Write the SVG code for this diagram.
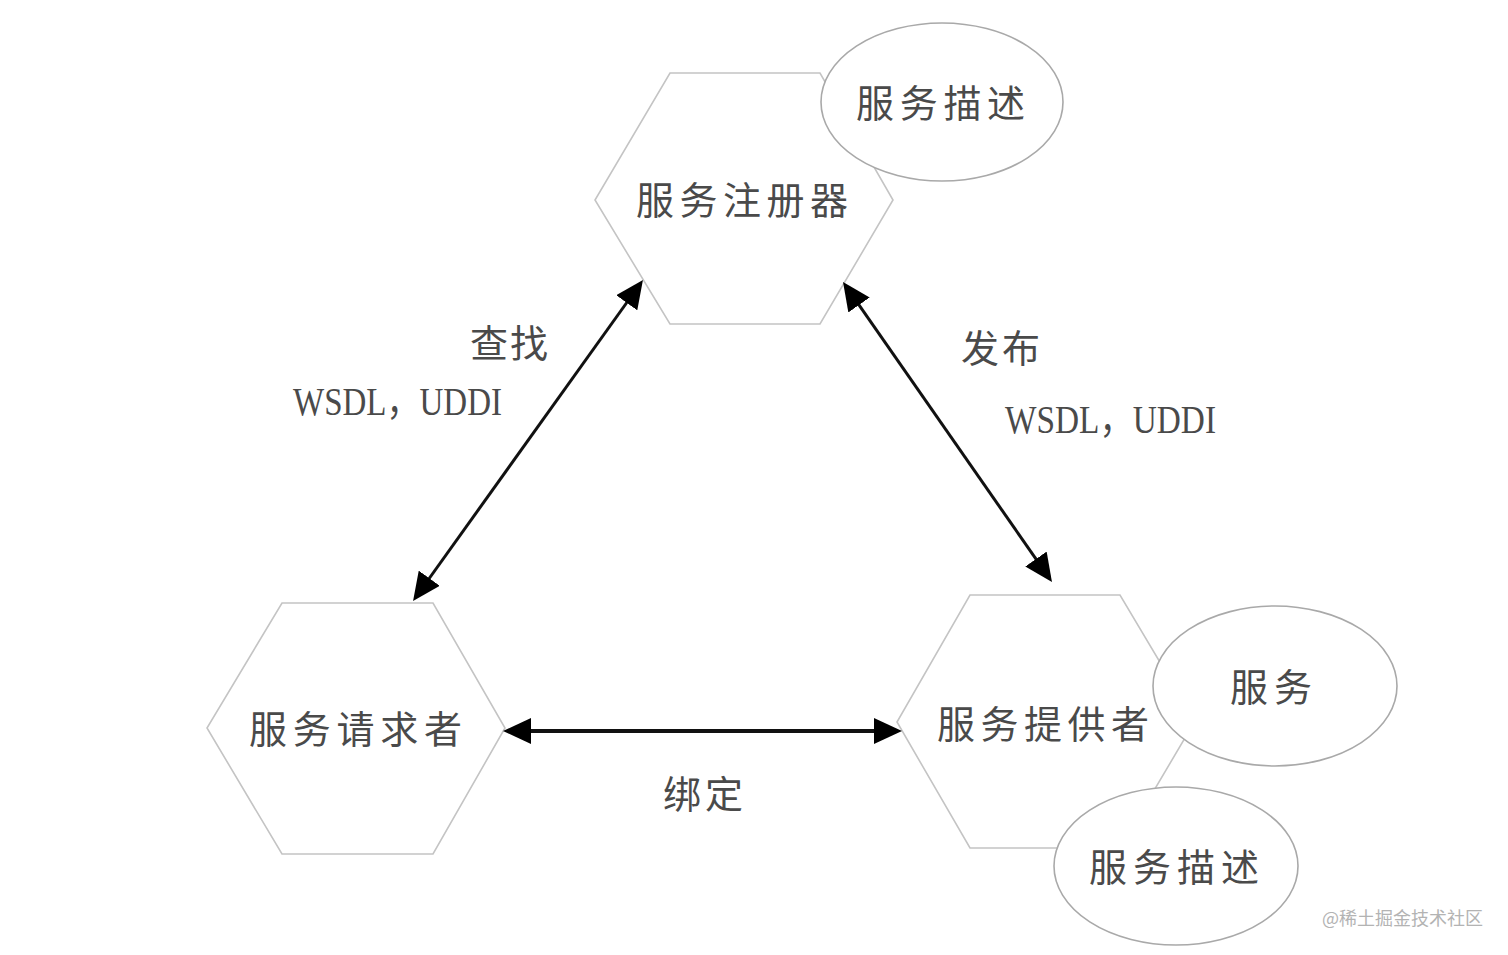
<svg xmlns="http://www.w3.org/2000/svg" width="1508" height="955" viewBox="0 0 1508 955">
<defs>
<style>
.hex{fill:#fff;stroke:#c4c4c4;stroke-width:1.6}
.ell{fill:#fff;stroke:#a9a9a9;stroke-width:1.6}
.cn{font-family:"Noto Sans CJK SC","Noto Sans CJK JP",sans-serif;font-size:38px;fill:#4a4a4a;dominant-baseline:central}
.lat{font-family:"Liberation Serif","Noto Sans CJK SC",serif;font-size:40px;fill:#4a4a4a}
.wm{font-family:"Noto Sans CJK SC",sans-serif;font-size:18px;fill:#b3b3b3}
.conn{stroke:#111;fill:none}
</style>
<marker id="ah" viewBox="0 0 28 26" refX="20" refY="13" markerWidth="28" markerHeight="26" markerUnits="userSpaceOnUse" orient="auto-start-reverse">
<path d="M0,0 L28,13 L0,26 z" fill="#000"/>
</marker>
</defs>
<rect width="1508" height="955" fill="#fff"/>

<g id="registry">
<polygon class="hex" points="670,73 820,73 893,200 820,324 670,324 595,200"/>
<text class="cn" x="636 679.5 723 766.5 810" y="197">服务注册器</text>
</g>
<g id="registry-desc">
<ellipse class="ell" cx="942" cy="102" rx="121" ry="79"/>
<text class="cn" x="856 899.7 943.4 987" y="100">服务描述</text>
</g>

<g id="requester">
<polygon class="hex" points="282,603 433,603 505,728 433,854 282,854 207,728"/>
<text class="cn" x="249 292.75 336.5 380.25 424" y="726">服务请求者</text>
</g>

<g id="provider">
<polygon class="hex" points="970,595 1120,595 1195,721 1120,848 970,848 897,722"/>
<text class="cn" x="937 980.5 1024 1067.5 1111" y="721">服务提供者</text>
</g>
<g id="service">
<ellipse class="ell" cx="1275" cy="686" rx="122" ry="80"/>
<text class="cn" x="1230 1274" y="684">服务</text>
</g>
<g id="provider-desc">
<ellipse class="ell" cx="1176" cy="866" rx="122" ry="79"/>
<text class="cn" x="1089 1133 1177 1221" y="864">服务描述</text>
</g>

<g id="connectors">
<line class="conn" stroke-width="3" x1="417.7" y1="594.5" x2="638.3" y2="286.5" marker-start="url(#ah)" marker-end="url(#ah)"/>
<line class="conn" stroke-width="3" x1="847.6" y1="288.6" x2="1047.4" y2="575.4" marker-start="url(#ah)" marker-end="url(#ah)"/>
<line class="conn" stroke-width="4" x1="511" y1="731" x2="894" y2="731" marker-start="url(#ah)" marker-end="url(#ah)"/>
</g>

<g id="labels">
<text class="cn" x="470 510" y="340">查找</text>
<text class="lat" x="293" y="415" textLength="209" lengthAdjust="spacingAndGlyphs">WSDL，UDDI</text>
<text class="cn" x="961 1002" y="345">发布</text>
<text class="lat" x="1005" y="433" textLength="211" lengthAdjust="spacingAndGlyphs">WSDL，UDDI</text>
<text class="cn" x="663 705" y="791">绑定</text>
</g>

<text class="wm" x="1322" y="925">@稀土掘金技术社区</text>
</svg>
